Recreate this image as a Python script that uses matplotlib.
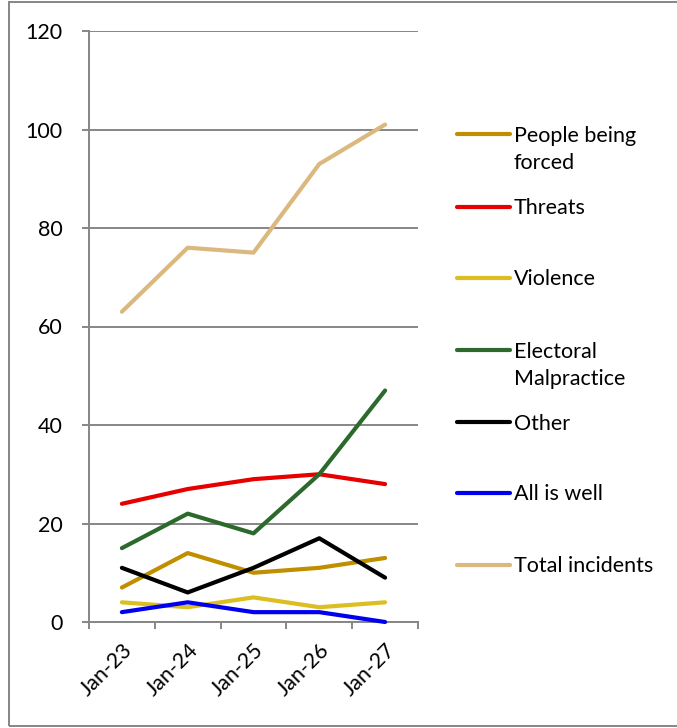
import matplotlib
matplotlib.use("Agg")
import matplotlib.pyplot as plt
from matplotlib.lines import Line2D
from matplotlib.patches import Rectangle
from matplotlib.transforms import ScaledTranslation

categories = ["Jan-23", "Jan-24", "Jan-25", "Jan-26", "Jan-27"]
series_names = ["People being\nforced", "Threats", "Violence", "Electoral\nMalpractice",
                "Other", "All is well", "Total incidents"]
people_forced = [7, 14, 10, 11, 13]
threats = [24, 27, 29, 30, 28]
violence = [4, 3, 5, 3, 4]
electoral = [15, 22, 18, 30, 47]
other = [11, 6, 11, 17, 9]
all_is_well = [2, 4, 2, 2, 0]
total = [63, 76, 75, 93, 101]
series_values = [people_forced, threats, violence, electoral, other, all_is_well, total]
colors = ["#BF8F00", "#E60000", "#DCBE22", "#2B6A2C", "#000000", "#0000F0", "#DBB87E"]
yticks = [0, 20, 40, 60, 80, 100, 120]

plt.rcParams['font.family'] = ['Lato', 'DejaVu Sans']
W, H = 677, 728
FS = 15.5
fig = plt.figure(figsize=(W / 100, H / 100), dpi=100)
ax = fig.add_axes([89 / W, 1 - 622 / H, (418 - 89) / W, (622 - 31) / H])

grid_c = "#868686"
x = list(range(len(categories)))
for vals, c in zip(series_values, colors):
    ax.plot(x, vals, color=c, lw=3.0, solid_capstyle='round', solid_joinstyle='round',
            clip_on=False, zorder=3)

ax.set_xlim(-0.5, len(categories) - 0.5)
ax.set_ylim(0, 120)
ax.set_yticks(yticks)
ax.set_yticklabels([str(v) for v in yticks], fontsize=FS)
ax.yaxis.grid(True, color=grid_c, lw=1.4)
ax.set_axisbelow(True)
ax.set_xticks([i - 0.5 for i in range(len(categories) + 1)])
ax.set_xticklabels([])
ax.set_xticks(x, minor=True)
ax.set_xticklabels(categories, minor=True, rotation=45, ha='right', va='top',
                   rotation_mode='anchor', fontsize=FS)
shift = ScaledTranslation(5 / 100, 0, fig.dpi_scale_trans)
for lab in ax.get_xticklabels(minor=True):
    lab.set_transform(lab.get_transform() + shift)
ax.tick_params(axis='x', which='major', length=5, width=1.4, color=grid_c, direction='out')
ax.tick_params(axis='x', which='minor', length=0, pad=13)
ax.tick_params(axis='y', length=5, width=1.4, color=grid_c, pad=14, direction='out')
for s in ['top', 'right']:
    ax.spines[s].set_visible(False)
for s in ['left', 'bottom']:
    ax.spines[s].set_color(grid_c)
    ax.spines[s].set_linewidth(1.4)

# legend drawn manually
leg_y = [134, 206.5, 278, 350, 422, 493, 565]
for name, c, yy in zip(series_names, colors, leg_y):
    fy = 1 - yy / H
    fig.add_artist(Line2D([457 / W, 510 / W], [fy, fy], transform=fig.transFigure,
                          color=c, lw=3.0, solid_capstyle='round'))
    for k, line in enumerate(name.split("\n")):
        fig.text(514 / W, 1 - (yy + 7.5 + k * 27.7) / H, line, fontsize=FS,
                 va='baseline', ha='left')

fig.add_artist(Rectangle((9 / W, 1 - 726 / H), 1.0, (726 - 2) / H, transform=fig.transFigure,
                         fill=False, edgecolor=grid_c, lw=1.4))

fig.savefig("out.png", dpi=100)
